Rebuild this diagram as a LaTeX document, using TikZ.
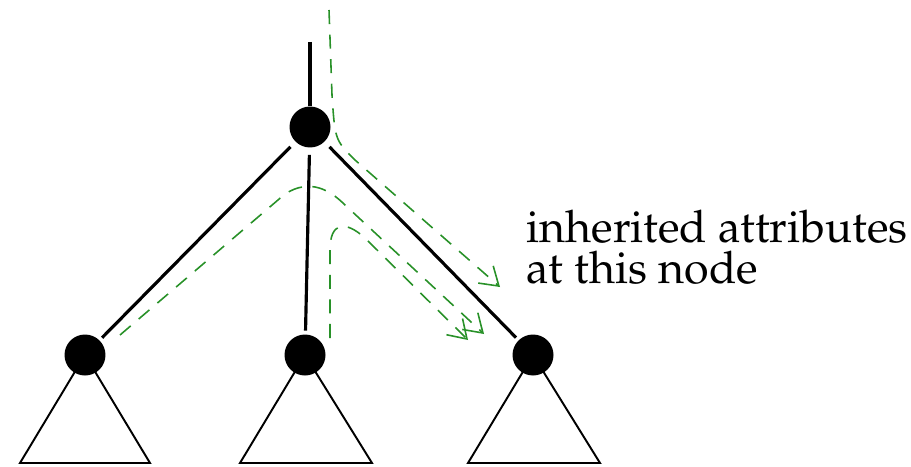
\documentclass[tikz,border=0pt]{standalone}
\usepackage[T1]{fontenc}
\usepackage{mathpazo}
\usepackage{xcolor}
\usepackage{tikz}
\usetikzlibrary{arrows.meta,backgrounds}

\definecolor{flowgreen}{RGB}{40,145,40}

\begin{document}
\begin{tikzpicture}[x=0.02cm, y=-0.02cm,
      dot/.style={circle, fill=black, inner sep=0pt, minimum size=0.82cm},
      edge/.style={line width=1.8pt},
      subtree/.style={line width=1.1pt},
      flow/.style={flowgreen, line width=0.9pt, dash pattern=on 8pt off 6pt,
                   -{Straight Barb[length=10pt,width=13pt,line width=0.9pt]}},
      lbl/.style={anchor=base west, inner sep=0pt, font=\fontsize{25.5}{28}\selectfont}]
    \useasboundingbox (0,0) rectangle (911,466);
    % tree
    \node[dot] (root) at (310,127) {};
    \node[dot] (lc) at (85,355)  {};
    \node[dot] (mc) at (305,355) {};
    \node[dot] (rc) at (533,355) {};
    \coordinate (top) at (310,42);
    \draw[edge] (top)--(root);
    \draw[edge,shorten <=4pt,shorten >=2pt] (root)--(lc);
    \draw[edge,shorten <=4pt,shorten >=2pt] (root)--(mc);
    \draw[edge,shorten <=4pt,shorten >=2pt] (root)--(rc);
    % subtrees
    \begin{scope}[on background layer]
      \draw[subtree] (lc.center)--++(-65,108)--++(130,0)--cycle;
      \draw[subtree] (mc.center)--++(-65,108)--++(132,0)--cycle;
      \draw[subtree] (rc.center)--++(-65,108)--++(132,0)--cycle;
    \end{scope}
    % attribute flow
    \coordinate (a0) at (329,10);
    \coordinate (a1) at (500,287);
    \draw[flow] (a0)--(332,95) .. controls (335,140) .. (355,160) -- (a1);
    \coordinate (b0) at (120,335);
    \coordinate (b1) at (484,334);
    \draw[flow] (b0)--(285,194) .. controls (310,178) and (330,190) .. (345,205) -- (b1);
    \coordinate (c0) at (330,338);
    \coordinate (c1) at (468,340);
    \draw[flow] (c0)--(330,250) .. controls (330,222) and (345,220) .. (365,238) -- (c1);
    % label
    \node[lbl] (t1) at (526,242) {inherited attributes};
    \node[lbl] (t2) at (526,283) {at this node};
  \end{tikzpicture}
\end{document}
